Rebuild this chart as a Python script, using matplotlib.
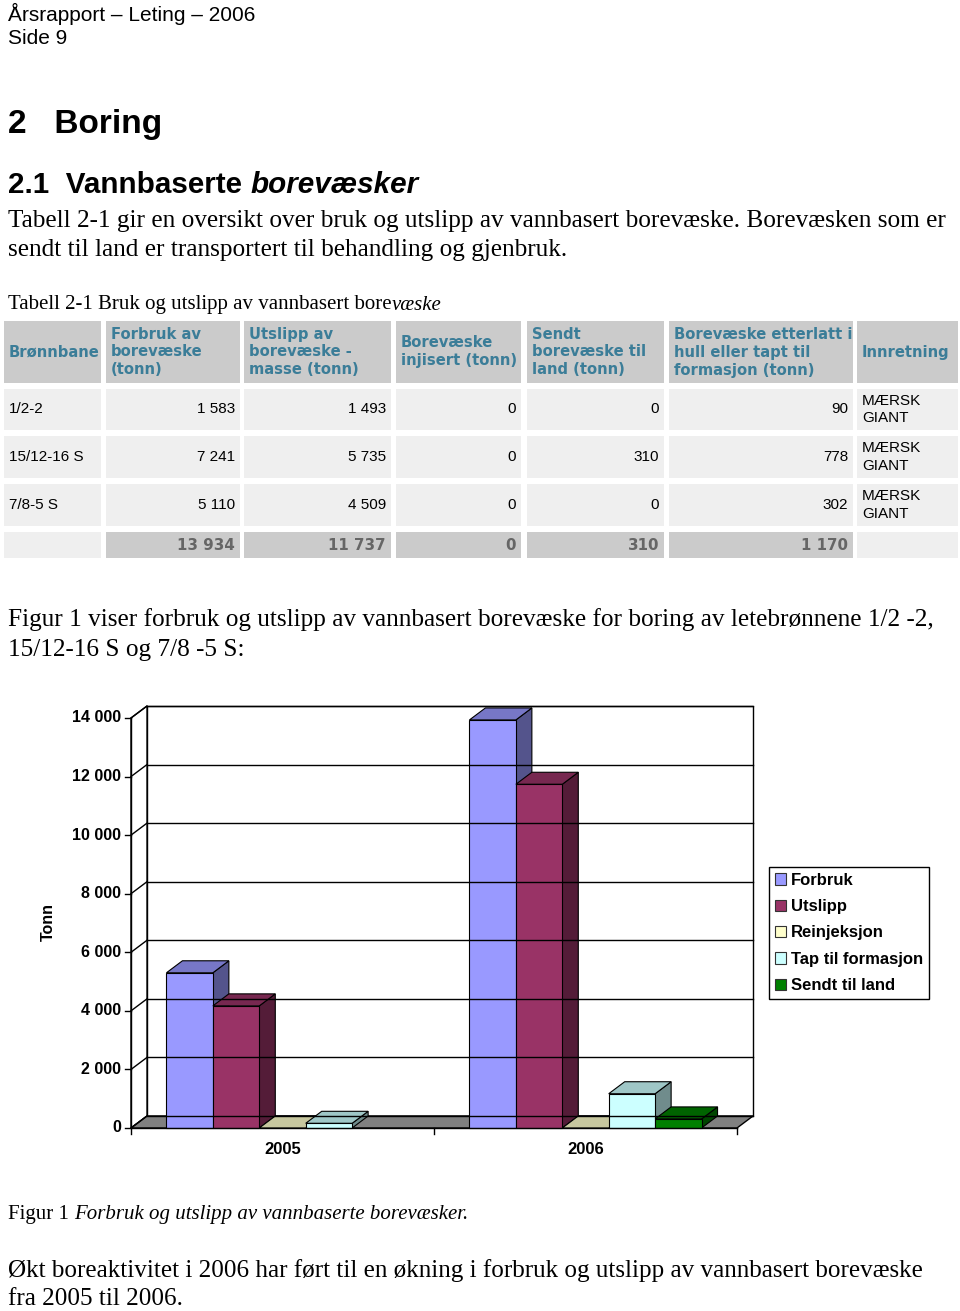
import matplotlib
matplotlib.use("Agg")
import matplotlib.pyplot as plt
from matplotlib.patches import Rectangle, Polygon, Patch
import numpy as np

# ---- data ----
wells = ['1/2-2', '15/12-16 S', '7/8-5 S']
forbruk_tbl = [1583, 7241, 5110]
utslipp_tbl = [1493, 5735, 4509]
injisert_tbl = [0, 0, 0]
sendt_tbl = [0, 310, 0]
etterlatt_tbl = [90, 778, 302]
innretning = ['MÆRSK\nGIANT', 'MÆRSK\nGIANT', 'MÆRSK\nGIANT']

years = ['2005', '2006']
series = ['Forbruk', 'Utslipp', 'Reinjeksjon', 'Tap til formasjon', 'Sendt til land']
forbruk = [5300, 13934]
utslipp = [4170, 11737]
reinjeksjon = [0, 0]
tap = [160, 1170]
sendt = [None, 310]
colors = ['#9999FF', '#993366', '#FFFFCC', '#CCFFFF', '#008000']
yticks = [0, 2000, 4000, 6000, 8000, 10000, 12000, 14000]

W, H = 960, 1311
fig = plt.figure(figsize=(W / 100, H / 100), dpi=100)
renderer = fig.canvas.get_renderer()


def fx(x):
    return x / W


def fy(y):
    return 1 - y / H


def put(x, y, s, **kw):
    kw.setdefault('va', 'center')
    return fig.text(fx(x), fy(y), s, **kw)


def after(t, gap=0):
    bb = t.get_window_extent(renderer)
    return bb.x1 + gap


def fmt(v):
    return f"{v:,}".replace(',', ' ')


SANS = 'Liberation Sans'
SERIF = 'Liberation Serif'

# ---- page text ----
put(8, 14, 'Årsrapport – Leting – 2006', family=SANS, fontsize=15)
put(8, 39, 'Side 9', family=SANS, fontsize=15)
put(8, 124, '2   Boring', family=SANS, fontsize=24, weight='bold')
t = put(8, 185, '2.1  Vannbaserte ', family=SANS, fontsize=21.3, weight='bold')
put(after(t), 185, 'borevæsker', family=SANS, fontsize=21.3, weight='bold', style='italic')

body = dict(family=SERIF, fontsize=18.2)
put(8, 221, 'Tabell 2-1 gir en oversikt over bruk og utslipp av vannbasert borevæske. Borevæsken som er', **body)
put(8, 250, 'sendt til land er transportert til behandling og gjenbruk.', **body)

t = put(8, 305, 'Tabell 2-1 Bruk og utslipp av vannbasert bore', family=SERIF, fontsize=15)
put(after(t), 305, 'væske', family=SERIF, fontsize=15, style='italic')

# ---- table ----
cols = [(4, 101), (106, 240), (244, 391), (396, 521), (527, 664), (669, 853), (857, 958)]
header = [['Brønnbane'], ['Forbruk av', 'borevæske', '(tonn)'], ['Utslipp av', 'borevæske -', 'masse (tonn)'],
          ['Borevæske', 'injisert (tonn)'], ['Sendt', 'borevæske til', 'land (tonn)'],
          ['Borevæske etterlatt i', 'hull eller tapt til', 'formasjon (tonn)'], ['Innretning']]
rows_y = [(389, 430), (436, 478), (484, 526)]
hdr_bg, row_bg, tot_bg = '#cbcbcb', '#efefef', '#cbcbcb'
hdr_col = '#3b7d98'


def cell(x0, x1, y0, y1, c):
    fig.patches.append(Rectangle((fx(x0), fy(y1)), fx(x1) - fx(x0), fy(y0) - fy(y1),
                                 transform=fig.transFigure, facecolor=c, edgecolor='none'))


for (x0, x1), lines in zip(cols, header):
    cell(x0, x1, 321, 383, hdr_bg)
    n = len(lines)
    for k, ln in enumerate(lines):
        yy = 352 + (k - (n - 1) / 2) * 18
        put(x0 + 5, yy, ln, family='DejaVu Sans', fontsize=10.6, weight='bold', color=hdr_col)

table_cols = [forbruk_tbl, utslipp_tbl, injisert_tbl, sendt_tbl, etterlatt_tbl]
for r, (y0, y1) in enumerate(rows_y):
    yc = (y0 + y1) / 2
    for (x0, x1) in cols:
        cell(x0, x1, y0, y1, row_bg)
    put(cols[0][0] + 5, yc, wells[r], family=SANS, fontsize=11)
    for j, vals in enumerate(table_cols):
        put(cols[j + 1][1] - 5, yc, fmt(vals[r]), family=SANS, fontsize=11, ha='right')
    l1, l2 = innretning[r].split('\n')
    put(cols[6][0] + 5, yc - 9, l1, family=SANS, fontsize=11)
    put(cols[6][0] + 5, yc + 9, l2, family=SANS, fontsize=11)

for i, (x0, x1) in enumerate(cols):
    cell(x0, x1, 532, 558, tot_bg if 0 < i < 6 else row_bg)
for j, vals in enumerate(table_cols):
    put(cols[j + 1][1] - 5, 545, fmt(sum(vals)), family='DejaVu Sans', fontsize=10.8,
        weight='bold', color='#666666', ha='right')

put(8, 620, 'Figur 1 viser forbruk og utslipp av vannbasert borevæske for boring av letebrønnene 1/2 -2,', **body)
put(8, 650, '15/12-16 S og 7/8 -5 S:', **body)

# ---- chart ----
ax = fig.add_axes([fx(131), fy(1128), fx(737) - fx(131), fy(718) - fy(1128)])
ax.set_xlim(0, 2)
ax.set_ylim(0, 14000)
ax.axis('off')
DX, DY = 0.0528, 410
top = yticks[-1]
lw = 1.0

# walls
ax.add_patch(Polygon([(DX, DY), (2 + DX, DY), (2 + DX, top + DY), (DX, top + DY)],
                     facecolor='white', edgecolor='black', lw=lw, clip_on=False))
ax.add_patch(Polygon([(0, 0), (DX, DY), (DX, top + DY), (0, top)],
                     facecolor='white', edgecolor='black', lw=lw, clip_on=False))
for v in yticks:
    ax.plot([DX, 2 + DX], [v + DY, v + DY], color='black', lw=lw, clip_on=False)
    ax.plot([0, DX], [v, v + DY], color='black', lw=lw, clip_on=False)
    ax.plot([-0.02, 0], [v, v], color='black', lw=lw, clip_on=False)
    ax.text(-0.033, v, fmt(v), ha='right', va='center', family=SANS, fontsize=11.5, weight='bold')
# floor
ax.add_patch(Polygon([(0, 0), (2, 0), (2 + DX, DY), (DX, DY)],
                     facecolor='#808080', edgecolor='black', lw=lw, clip_on=False))
ax.plot([0, 0], [-205, top], color='black', lw=lw, clip_on=False)
ax.plot([0, 2], [0, 0], color='black', lw=lw, clip_on=False)
for c in [1, 2]:
    ax.plot([c, c], [-205, 0], color='black', lw=lw, clip_on=False)


def shade(col, f):
    rgb = np.array(matplotlib.colors.to_rgb(col)) * f
    return tuple(rgb)


bw = 0.1532
data = [forbruk, utslipp, reinjeksjon, tap, sendt]
for ci in range(len(years)):
    for si, vals in enumerate(data):
        v = vals[ci]
        if v is None:
            continue
        x0 = ci + 0.117 + si * bw
        col = colors[si]
        ax.add_patch(Polygon([(x0 + bw, 0), (x0 + bw + DX, DY), (x0 + bw + DX, v + DY), (x0 + bw, v)],
                             facecolor=shade(col, 0.55), edgecolor='black', lw=0.8, clip_on=False))
        ax.add_patch(Polygon([(x0, v), (x0 + bw, v), (x0 + bw + DX, v + DY), (x0 + DX, v + DY)],
                             facecolor=shade(col, 0.78), edgecolor='black', lw=0.8, clip_on=False))
        if v > 0:
            ax.bar(x0, v, width=bw, align='edge', color=col, edgecolor='black', lw=0.8, clip_on=False)
    ax.text(ci + 0.5, -750, years[ci], ha='center', va='center', family=SANS, fontsize=12, weight='bold')

put(48, 922, 'Tonn', family=SANS, fontsize=11.5, weight='bold', rotation=90, ha='center')

handles = [Patch(facecolor=c, edgecolor='#333333', lw=0.8) for c in colors]
fig.legend(handles, series, loc='upper left', bbox_to_anchor=(fx(769), fy(867)),
           frameon=True, fancybox=False, edgecolor='black', framealpha=1,
           prop=dict(family=SANS, size=12, weight='bold'),
           handlelength=0.65, handleheight=0.65, handletextpad=0.3,
           labelspacing=0.68, borderpad=0.35, borderaxespad=0)

t = put(8, 1215, 'Figur 1 ', family=SERIF, fontsize=15)
put(after(t), 1215, 'Forbruk og utslipp av vannbaserte borevæsker.', family=SERIF, fontsize=15, style='italic')

put(8, 1271, 'Økt boreaktivitet i 2006 har ført til en økning i forbruk og utslipp av vannbasert borevæske',
    family=SERIF, fontsize=18.1)
put(8, 1299, 'fra 2005 til 2006.', family=SERIF, fontsize=18.1)

fig.savefig('out.png', dpi=100)
